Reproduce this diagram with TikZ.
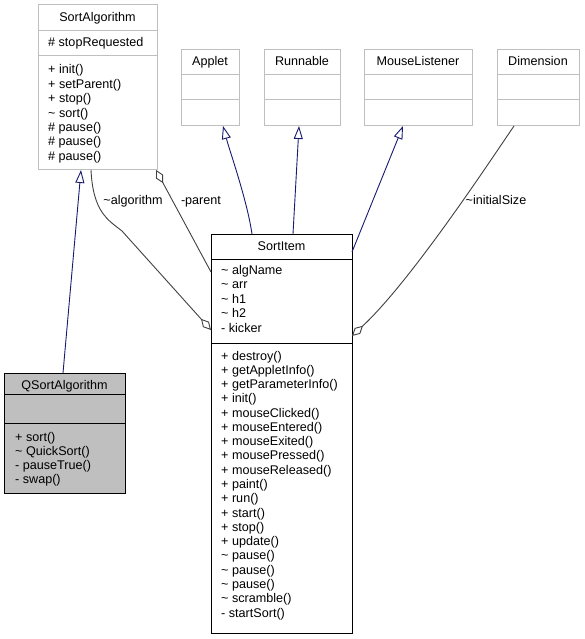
\documentclass[tikz,border=0pt]{standalone}
\usepackage{fontspec}
\setmainfont{Liberation Sans}
\usetikzlibrary{arrows.meta,calc}
\definecolor{edgegray}{HTML}{404040}
\definecolor{inhblue}{HTML}{191970}
\definecolor{boxgray}{HTML}{BFBFBF}
\begin{document}
\begin{tikzpicture}[x=1pt,y=-1pt,
  extbox/.style={draw=boxgray, fill=white, line width=1pt, inner sep=0pt, outer sep=0pt},
  mainbox/.style={draw=black, fill=white, line width=1pt, inner sep=0pt, outer sep=0pt},
  subbox/.style={draw=black, fill=boxgray, line width=1pt, inner sep=0pt, outer sep=0pt},
  extdiv/.style={draw=boxgray, line width=1pt},
  maindiv/.style={draw=black, line width=1pt},
  mem/.style={anchor=base west, inner sep=0pt, font=\fontsize{12.6}{14}\selectfont},
  ttl/.style={anchor=base, inner sep=0pt, font=\fontsize{12.6}{14}\selectfont},
  lbl/.style={anchor=base, inner sep=0pt, font=\fontsize{12.6}{14}\selectfont},
  inh/.style={draw=inhblue, line width=0.9pt, -{Triangle[length=13pt, width=9pt, fill=white]}},
  agg/.style={draw=edgegray, line width=0.9pt, -{Diamond[length=15pt, width=8pt, fill=white]}}
]
\useasboundingbox (0,0) rectangle (585,639);

% ---- SortAlgorithm
\node[extbox, minimum width=119pt, minimum height=165pt] (SA) at (97.5,87.5) {};
\draw[extdiv] (SA.west |- 0,31) -- (SA.east |- 0,31);
\draw[extdiv] (SA.west |- 0,56) -- (SA.east |- 0,56);
\node[ttl] (SAt) at (97.5,22) {SortAlgorithm};
\node[mem] (SAa1) at (48,47) {\# stopRequested};
\node[mem] (SAm1) at (48,74) {+ init()};
\node[mem] (SAm2) at (48,88.4) {+ setParent()};
\node[mem] (SAm3) at (48,102.8) {+ stop()};
\node[mem] (SAm4) at (48,117.2) {\textasciitilde{} sort()};
\node[mem] (SAm5) at (48,131.6) {\# pause()};
\node[mem] (SAm6) at (48,146) {\# pause()};
\node[mem] (SAm7) at (48,160.4) {\# pause()};

% ---- Applet, Runnable, MouseListener, Dimension
\node[extbox, minimum width=58pt, minimum height=76pt] (AP) at (210,88) {};
\node[extbox, minimum width=76pt, minimum height=76pt] (RU) at (302,88) {};
\node[extbox, minimum width=108pt, minimum height=76pt] (ML) at (418,88) {};
\node[extbox, minimum width=82pt, minimum height=76pt] (DI) at (538,88) {};
\foreach \b in {AP,RU,ML,DI}{
  \draw[extdiv] (\b.west |- 0,75) -- (\b.east |- 0,75);
  \draw[extdiv] (\b.west |- 0,100) -- (\b.east |- 0,100);
}
\node[ttl] (APt) at (210,66) {Applet};
\node[ttl] (RUt) at (302,66) {Runnable};
\node[ttl] (MLt) at (418,66) {MouseListener};
\node[ttl] (DIt) at (538,66) {Dimension};

% ---- SortItem
\node[mainbox, minimum width=141pt, minimum height=399pt] (SI) at (281.5,433.5) {};
\draw[maindiv] (SI.west |- 0,259) -- (SI.east |- 0,259);
\draw[maindiv] (SI.west |- 0,343) -- (SI.east |- 0,343);
\node[ttl] (SIt) at (281.5,250) {SortItem};
\node[mem] (SIa1) at (221,274) {\textasciitilde{} algName};
\node[mem] (SIa2) at (221,288.5) {\textasciitilde{} arr};
\node[mem] (SIa3) at (221,303) {\textasciitilde{} h1};
\node[mem] (SIa4) at (221,317.5) {\textasciitilde{} h2};
\node[mem] (SIa5) at (221,332) {- kicker};
\foreach \t [count=\i from 0] in {+ destroy(),+ getAppletInfo(),+ getParameterInfo(),+ init(),+ mouseClicked(),+ mouseEntered(),+ mouseExited(),+ mousePressed(),+ mouseReleased(),+ paint(),+ run(),+ start(),+ stop(),+ update(),\textasciitilde{} pause(),\textasciitilde{} pause(),\textasciitilde{} pause(),\textasciitilde{} scramble(),- startSort()}{
  \node[mem] (SIm\i) at (221,360+14.28*\i) {\t};
}

% ---- QSortAlgorithm
\node[subbox, minimum width=121pt, minimum height=120pt] (QS) at (64.5,433) {};
\draw[maindiv] (QS.west |- 0,394) -- (QS.east |- 0,394);
\draw[maindiv] (QS.west |- 0,423) -- (QS.east |- 0,423);
\node[ttl] (QSt) at (64.5,389) {QSortAlgorithm};
\node[mem] (QSm1) at (15,441) {+ sort()};
\node[mem] (QSm2) at (15,455) {\textasciitilde{} QuickSort()};
\node[mem] (QSm3) at (15,469) {- pauseTrue()};
\node[mem] (QSm4) at (15,483) {- swap()};

% ---- connectors
\draw[inh] ($(QS.north west)+(59,0)$) -- ($(SA.south west)+(43,0)$);
\draw[inh] ($(SI.north west)+(41,0)$) .. controls (247,200) and (230,152) .. ($(AP.south west)+(42,0)$);
\draw[inh] ($(SI.north west)+(82,0)$) -- ($(RU.south west)+(35,0)$);
\draw[inh] ($(SI.north east)+(0,18)$) -- ($(ML.south west)+(39,0)$);

\draw[agg] ($(SA.south west)+(53,0)$) .. controls (93,212) and (108,220) .. (122,231) -- ($(SI.north west)+(0,96)$);
\draw[agg] ($(SI.north west)+(0,38)$) -- ($(SA.south east)+(-1,0)$);
\draw[agg] ($(DI.south west)+(17,0)$) .. controls (492,158) and (412,280) .. ($(SI.north east)+(0,102)$);

\node[lbl] (L1) at (133,204) {\textasciitilde{}algorithm};
\node[lbl] (L2) at (201,204) {-parent};
\node[lbl] (L3) at (496,204) {\textasciitilde{}initialSize};
\end{tikzpicture}
\end{document}
